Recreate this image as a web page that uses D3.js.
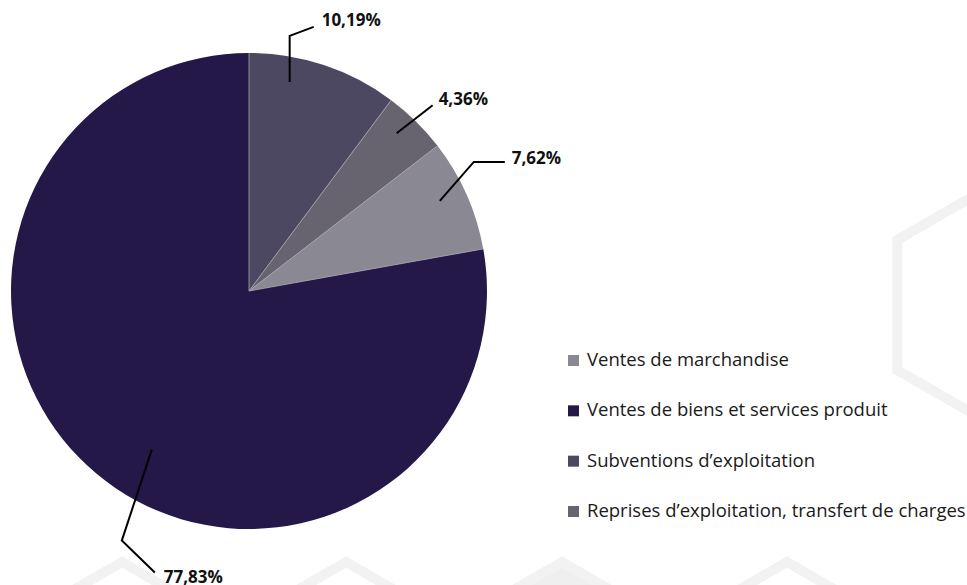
<!DOCTYPE html>
<html>
<head>
<meta charset="utf-8">
<script src="https://cdn.jsdelivr.net/npm/d3@7"></script>
<style>
  html, body { margin: 0; padding: 0; background: #ffffff; }
  svg { display: block; }
  text { font-family: "Open Sans", "Noto Sans", sans-serif; }
</style>
</head>
<body>
<svg id="chart" width="967" height="585"></svg>
<script>
// ---- Data ----
const sliceNames = [
  "Subventions d\u2019exploitation",
  "Reprises d\u2019exploitation, transfert de charges",
  "Ventes de marchandise",
  "Ventes de biens et services produit"
];
const sliceValues = [10.19, 4.36, 7.62, 77.83];
const sliceLabels = ["10,19%", "4,36%", "7,62%", "77,83%"];
const legendNames = [
  "Ventes de marchandise",
  "Ventes de biens et services produit",
  "Subventions d\u2019exploitation",
  "Reprises d\u2019exploitation, transfert de charges"
];

// ---- Styles / layout ----
const colorScale = d3.scaleOrdinal()
  .domain(sliceNames)
  .range(["#4d4862", "#67636f", "#8a8893", "#231848"]);

// leader geometry: fraction of slice angle, radius of anchor, elbow & end offsets
const leaderLayout = [
  { f: 0.30, r: 213, pts: [[0, -46], [24, -55]], text: [32, -56] },
  { f: 0.41, r: 216, pts: [[36, -28]], text: [42, -28] },
  { f: 0.45, r: 211, pts: [[34, -39], [65, -39]], text: [72, -37] },
  { f: 0.47, r: 186, pts: [[-30, 91], [3, 123]], text: [12, 133] }
];

const svg = d3.select("#chart");

// ---- background hexagon watermarks ----
function hexPoints(cx, cy, s) {
  const pts = [];
  for (let i = 0; i < 6; i++) {
    const a = Math.PI / 3 * i;
    pts.push([cx + s * Math.sin(a), cy - s * Math.cos(a)]);
  }
  return pts;
}
const hexLine = d3.line().curve(d3.curveLinearClosed);
const deco = svg.append("g");
const hexes = [
  { cx: 1010, cy: 305, fill: "none" },
  { cx: 122, cy: 692, fill: "none" },
  { cx: 346, cy: 692, fill: "none" },
  { cx: 562, cy: 692, fill: "#efefef" },
  { cx: 787, cy: 692, fill: "none" }
];
deco.selectAll("path").data(hexes).join("path")
  .attr("d", d => hexLine(hexPoints(d.cx, d.cy, 130)))
  .attr("fill", d => d.fill)
  .attr("stroke", "#f2f2f2")
  .attr("stroke-width", 10)
  .attr("stroke-linejoin", "miter");

// ---- pie ----
const cx = 249, cy = 291, R = 238;
const pie = d3.pie().sort(null).value(d => d.v);
const arcs = pie(sliceValues.map((v, i) => ({ v, name: sliceNames[i], label: sliceLabels[i] })));
const arc = d3.arc().innerRadius(0).outerRadius(R);

const g = svg.append("g").attr("transform", `translate(${cx},${cy})`);
g.selectAll("path.slice").data(arcs).join("path")
  .attr("class", "slice")
  .attr("d", arc)
  .attr("fill", d => colorScale(d.data.name));

// separators (radial lines only)
g.selectAll("line.sep").data(arcs).join("line")
  .attr("class", "sep")
  .attr("x1", 0).attr("y1", 0)
  .attr("x2", d => R * Math.sin(d.startAngle))
  .attr("y2", d => -R * Math.cos(d.startAngle))
  .attr("stroke", "#a8a5b3")
  .attr("stroke-width", 0.8);

// ---- leader lines & labels ----
const lineGen = d3.line();
arcs.forEach((d, i) => {
  const L = leaderLayout[i];
  const a = d.startAngle + L.f * (d.endAngle - d.startAngle);
  const x0 = L.r * Math.sin(a), y0 = -L.r * Math.cos(a);
  const pts = [[x0, y0]].concat(L.pts.map(p => [x0 + p[0], y0 + p[1]]));
  g.append("path")
    .attr("d", lineGen(pts))
    .attr("fill", "none")
    .attr("stroke", "#000")
    .attr("stroke-width", 2);
  g.append("text")
    .attr("x", x0 + L.text[0])
    .attr("y", y0 + L.text[1])
    .attr("font-size", 17)
    .attr("font-weight", 700)
    .attr("fill", "#111")
    .text(d.data.label);
});

// ---- legend ----
const legendY = d3.scalePoint().domain(legendNames).range([366, 517]);
const leg = svg.append("g");
const items = leg.selectAll("g").data(legendNames).join("g")
  .attr("transform", d => `translate(568,${legendY(d)})`);
items.append("rect")
  .attr("x", 0).attr("y", -11)
  .attr("width", 11).attr("height", 11)
  .attr("fill", d => colorScale(d));
items.append("text")
  .attr("x", 19).attr("y", 0)
  .attr("font-size", 18.5)
  .attr("fill", "#1a1a1a")
  .text(d => d);
</script>
</body>
</html>
